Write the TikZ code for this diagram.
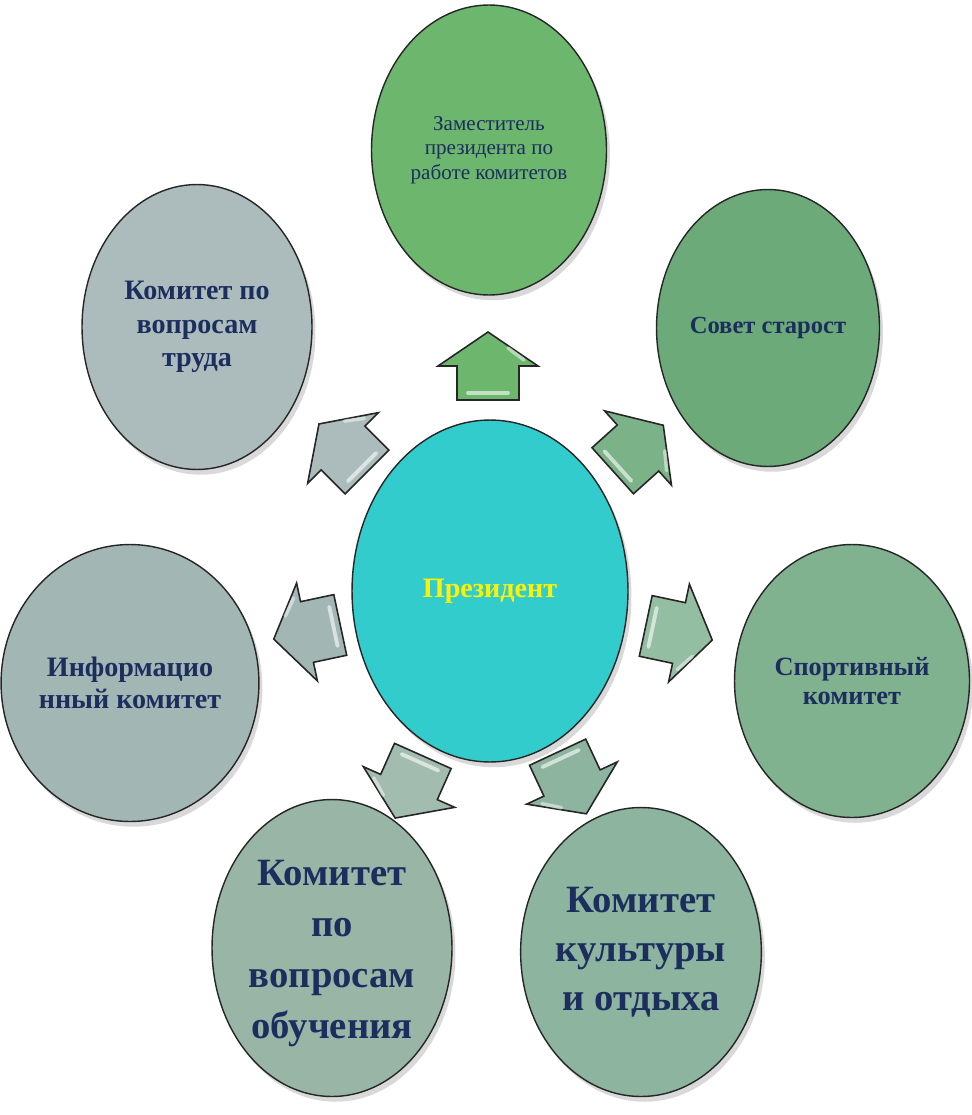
\documentclass[tikz,border=0pt]{standalone}
\usepackage{fontspec}
\setmainfont{Liberation Serif}
\usetikzlibrary{shapes.geometric, shadows}

\definecolor{txtblue}{HTML}{1C2E5E}
\definecolor{zamfill}{HTML}{6CB66E}
\definecolor{sovetfill}{HTML}{6CAA7A}
\definecolor{sportfill}{HTML}{80B290}
\definecolor{kultfill}{HTML}{8CB49E}
\definecolor{obuchfill}{HTML}{98B5A6}
\definecolor{infofill}{HTML}{A2B6B4}
\definecolor{trudfill}{HTML}{ACBCBC}
\definecolor{presfill}{HTML}{33CCCC}

\tikzset{
  bubble/.style={ellipse, draw=black!85, line width=0.8pt, inner sep=0pt,
    align=center, font=\bfseries, text=txtblue,
    drop shadow={shadow xshift=2pt, shadow yshift=-3pt, opacity=0.3}},
  pics/blockarrow/.style={code={
    \draw[black!85, line width=0.9pt, fill=#1]
      (34,0) -- (0,50) -- (0,31) -- (-34,31) -- (-34,-31) -- (0,-31) -- (0,-50) -- cycle;
    \draw[white, opacity=0.6, line width=2.2pt, line cap=round] (-27,-20) -- (-27,20);
    \draw[white, opacity=0.5, line width=2pt, line cap=round] (6,36) -- (18,20);
  }}
}

\begin{document}
\begin{tikzpicture}[x=0.02cm, y=-0.02cm]
    \useasboundingbox (0,0) rectangle (971,1115);

    % circles
    \node[bubble, fill=zamfill, minimum width=4.70cm, minimum height=5.80cm,
          font=\fontsize{12}{14}\selectfont] (zam) at (489,150)
          {Заместитель\\президента по\\работе комитетов};
    \node[bubble, fill=sovetfill, minimum width=4.46cm, minimum height=5.54cm,
          font=\bfseries\fontsize{14}{17}\selectfont] (sovet) at (768,328) {Совет старост};
    \node[bubble, fill=sportfill, minimum width=4.70cm, minimum height=5.46cm,
          font=\bfseries\fontsize{15}{17}\selectfont] (sport) at (852,681) {Спортивный\\комитет};
    \node[bubble, fill=kultfill, minimum width=4.76cm, minimum height=5.78cm,
          font=\bfseries\fontsize{22}{28}\selectfont] (kult) at (641,952) {Комитет\\культуры\\и отдыха};
    \node[bubble, fill=obuchfill, minimum width=4.80cm, minimum height=5.94cm,
          font=\bfseries\fontsize{22}{29}\selectfont] (obuch) at (332,948) {\\[-8pt]Комитет\\по\\вопросам\\обучения};
    \node[bubble, fill=infofill, minimum width=5.02cm, minimum height=5.54cm,
          font=\bfseries\fontsize{16}{18}\selectfont] (info) at (130,683) {Информацио\\нный комитет};
    \node[bubble, fill=trudfill, minimum width=4.60cm, minimum height=5.70cm,
          font=\bfseries\fontsize{16}{19}\selectfont] (trud) at (197,327) {Комитет по\\вопросам\\труда};
    \node[bubble, fill=presfill, minimum width=5.52cm, minimum height=6.84cm, text=yellow,
          font=\bfseries\fontsize{16}{19}\selectfont] (pres) at (490,591) {Президент};

    % arrows
    \pic[rotate=90] at (488,366) {blockarrow=zamfill};
    \pic[rotate=135] at (343,448) {blockarrow=trudfill};
    \pic[rotate=42] at (638,448) {blockarrow=sovetfill!90!white};
    \pic[rotate=192] at (307,632) {blockarrow=infofill};
    \pic[rotate=-12] at (679,633) {blockarrow=sportfill!85!white};
    \pic[rotate=246] at (409,787) {blockarrow=obuchfill!90!white};
    \pic[rotate=-65] at (572,783) {blockarrow=kultfill};
\end{tikzpicture}
\end{document}
